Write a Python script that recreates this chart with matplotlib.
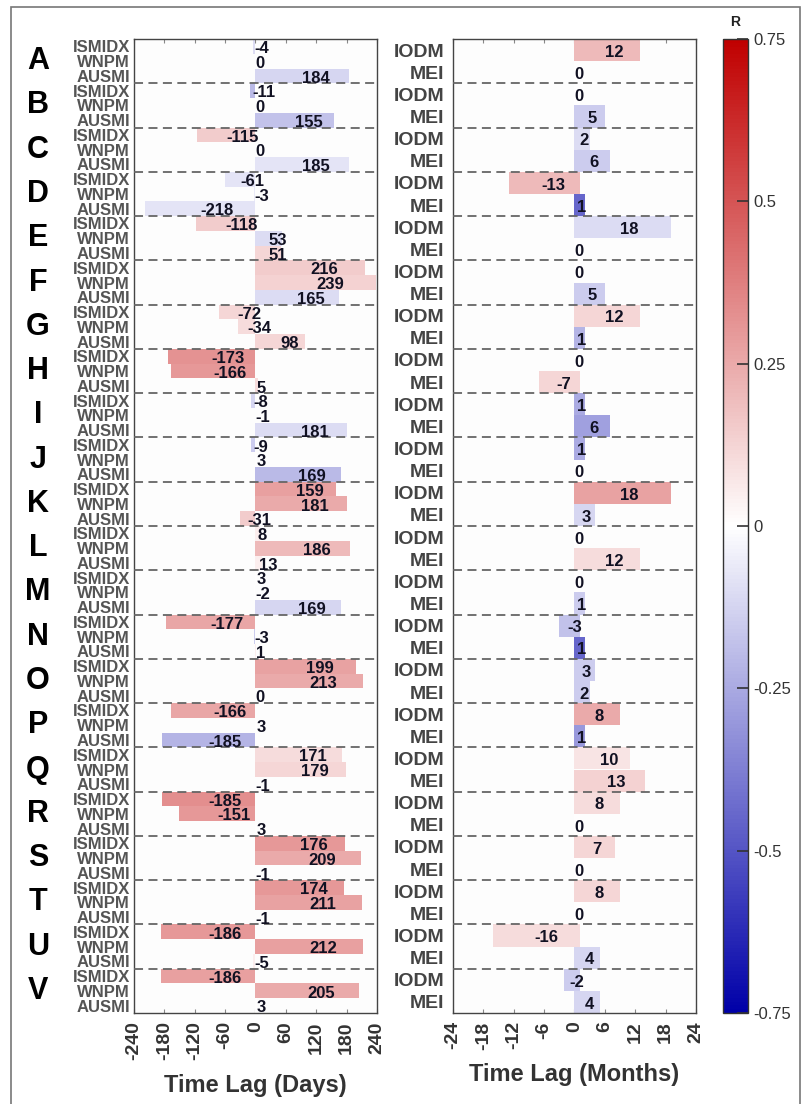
import matplotlib
matplotlib.use("Agg")
import matplotlib.pyplot as plt
import numpy as np
from matplotlib.colors import LinearSegmentedColormap, Normalize
from matplotlib.cm import ScalarMappable
from matplotlib.patches import Rectangle

plt.rcParams['font.family'] = ['Liberation Sans', 'DejaVu Sans']

# ---------------- data ----------------
groups = list("ABCDEFGHIJKLMNOPQRSTUV")
day_series = ["ISMIDX", "WNPM", "AUSMI"]
month_series = ["IODM", "MEI"]

ismidx_lag = [-4, -11, -115, -61, -118, 216, -72, -173, -8, -9, 159, 8, 3, -177, 199, -166, 171, -185, 176, 174, -186, -186]
wnpm_lag = [0, 0, 0, -3, 53, 239, -34, -166, -1, 3, 181, 186, -2, -3, 213, 3, 179, -151, 209, 211, 212, 205]
ausmi_lag = [184, 155, 185, -218, 51, 165, 98, 5, 181, 169, -31, 13, 169, 1, 0, -185, -1, 3, -1, -1, -5, 3]

ismidx_r = [-0.10, -0.20, 0.15, -0.08, 0.15, 0.15, 0.12, 0.32, -0.12, -0.15, 0.28, 0.05, 0.0, 0.26, 0.27, 0.26, 0.10, 0.33, 0.30, 0.30, 0.30, 0.28]
wnpm_r = [0.0, 0.0, 0.0, -0.06, -0.10, 0.13, 0.10, 0.30, -0.05, 0.0, 0.25, 0.20, 0.0, -0.15, 0.25, 0.0, 0.12, 0.30, 0.25, 0.27, 0.28, 0.25]
ausmi_r = [-0.12, -0.18, -0.08, -0.08, 0.12, -0.10, 0.12, 0.10, -0.10, -0.20, 0.15, 0.05, -0.12, 0.05, 0.0, -0.22, 0.0, 0.0, 0.0, 0.0, 0.05, 0.0]

iodm_lag = [12, 0, 2, -13, 18, 0, 12, 0, 1, 1, 18, 0, 0, -3, 3, 8, 10, 8, 7, 8, -16, -2]
mei_lag = [0, 5, 6, 1, 0, 5, 1, -7, 6, 0, 3, 12, 1, 1, 2, 1, 13, 0, 0, 0, 4, 4]
iodm_r = [0.20, 0.0, -0.10, 0.20, -0.10, 0.0, 0.12, 0.0, -0.25, -0.25, 0.27, 0.0, 0.0, -0.18, -0.15, 0.25, 0.08, 0.10, 0.12, 0.12, 0.10, -0.15]
mei_r = [0.0, -0.15, -0.15, -0.45, 0.0, -0.15, -0.22, 0.12, -0.28, 0.0, -0.12, 0.10, -0.15, -0.45, -0.15, -0.30, 0.13, 0.0, 0.0, 0.0, -0.12, -0.12]

day_ticks = [-240, -180, -120, -60, 0, 60, 120, 180, 240]
month_ticks = [-24, -18, -12, -6, 0, 6, 12, 18, 24]
cbar_ticks = [-0.75, -0.5, -0.25, 0, 0.25, 0.5, 0.75]
cbar_labels = ["-0.75", "-0.5", "-0.25", "0", "0.25", "0.5", "0.75"]

# ---------------- figure ----------------
W, H = 803, 1104
fig = plt.figure(figsize=(W / 100, H / 100), dpi=100)
fig.patch.set_facecolor("white")

cmap = LinearSegmentedColormap.from_list("rwb", ["#0000A8", "#FFFFFF", "#C00000"])
norm = Normalize(-0.75, 0.75)


def fx(px):
    return px / W


def fy(py):
    return 1 - py / H


top, bot = 39, 1013
ax1 = fig.add_axes([fx(134), fy(bot), fx(377) - fx(134), fy(top) - fy(bot)])
ax2 = fig.add_axes([fx(453), fy(bot), fx(696) - fx(453), fy(top) - fy(bot)])
cax = fig.add_axes([fx(723), fy(bot), fx(748) - fx(723), fy(top) - fy(bot)])

label_col = "#111122"
ng = len(groups)

# ---- days panel ----
day_lags = [ismidx_lag, wnpm_lag, ausmi_lag]
day_rs = [ismidx_r, wnpm_r, ausmi_r]
ns = len(day_series)
ypos, ylab = [], []
for g in range(ng):
    for s in range(ns):
        y = g * ns + s
        v = day_lags[s][g]
        r = day_rs[s][g]
        ax1.barh(y, v, left=0, height=1.0, color=cmap(norm(r)), edgecolor="none", zorder=2)
        ax1.text(v / 2, y + 0.15, str(v), ha="left", va="center", fontsize=12,
                 fontweight="bold", color=label_col, zorder=4)
        ypos.append(y)
        ylab.append(day_series[s])
for g in range(1, ng):
    ax1.axhline(g * ns - 0.5, color="#666666", lw=1.3, ls=(0, (5, 3)), zorder=3)
ax1.set_ylim(ng * ns - 0.5, -0.5)
ax1.set_xlim(-240, 240)
ax1.set_yticks(ypos)
ax1.set_yticklabels(ylab, fontsize=12, fontweight="bold", color="#555555")
ax1.tick_params(axis="y", length=0, pad=3)
ax1.set_xticks(day_ticks)
ax1.set_xticklabels([str(t) for t in day_ticks], rotation=90, fontsize=14,
                    fontweight="bold", color="#333333")
ax1.tick_params(axis="x", direction="in", length=3, color="#888888", top=True, pad=6)
ax1.set_xlabel("Time Lag (Days)", fontsize=17, fontweight="bold", color="#333333", labelpad=10)

for g in range(ng):
    yc = g * ns + (ns - 1) / 2
    ax1.annotate(groups[g], xy=(0, yc), xycoords=("figure fraction", "data"),
                 xytext=(fx(38), 0), textcoords=("figure fraction", "offset points"),
                 ha="center", va="center", fontsize=22, fontweight="bold", color="#000000")

# ---- months panel ----
mon_lags = [iodm_lag, mei_lag]
mon_rs = [iodm_r, mei_r]
nm = len(month_series)
ypos2, ylab2 = [], []
for g in range(ng):
    for s in range(nm):
        y = g * nm + s
        v = mon_lags[s][g]
        r = mon_rs[s][g]
        lo = min(v, 0)
        hi = max(v, 0) + 1
        ax2.barh(y, hi - lo, left=lo, height=1.0, color=cmap(norm(r)), edgecolor="none", zorder=2)
        ax2.text(v / 2, y + 0.1, str(v), ha="left", va="center", fontsize=12,
                 fontweight="bold", color=label_col, zorder=4)
        ypos2.append(y)
        ylab2.append(month_series[s])
for g in range(1, ng):
    ax2.axhline(g * nm - 0.5, color="#666666", lw=1.3, ls=(0, (5, 3)), zorder=3)
ax2.set_ylim(ng * nm - 0.5, -0.5)
ax2.set_xlim(-24, 24)
ax2.set_yticks(ypos2)
ax2.set_yticklabels(ylab2, fontsize=14, fontweight="bold", color="#444444")
ax2.tick_params(axis="y", length=0, pad=6)
ax2.set_xticks(month_ticks)
ax2.set_xticklabels([str(t) for t in month_ticks], rotation=90, fontsize=14,
                    fontweight="bold", color="#333333")
ax2.tick_params(axis="x", direction="in", length=3, color="#888888", top=True, pad=6)
ax2.set_xlabel("Time Lag (Months)", fontsize=17, fontweight="bold", color="#333333", labelpad=10)

for ax in (ax1, ax2):
    ax.set_facecolor("#FDFDFD")
    for sp in ax.spines.values():
        sp.set_color("#444444")
        sp.set_linewidth(1.0)

# ---- colorbar ----
cb = fig.colorbar(ScalarMappable(norm=norm, cmap=cmap), cax=cax, ticks=cbar_ticks)
cb.ax.set_yticklabels(cbar_labels)
cb.ax.tick_params(direction="in", length=8, width=1.2, color="#333333", labelsize=12,
                  labelcolor="#333333", pad=4)
cb.outline.set_edgecolor("#333333")
cb.outline.set_linewidth(1.0)
fig.text(fx(735), fy(22), "R", ha="center", va="center", fontsize=10, fontweight="bold", color="#222222")

# ---- outer frame ----
fig.patches.append(Rectangle((fx(11), -0.01), fx(800) - fx(11), fy(7) + 0.01,
                             transform=fig.transFigure, fill=False,
                             edgecolor="#777777", linewidth=1.2))

fig.savefig("out.png", dpi=100)
